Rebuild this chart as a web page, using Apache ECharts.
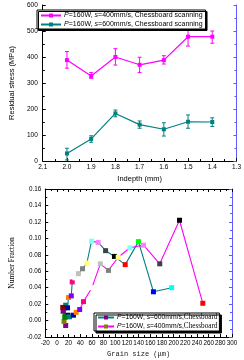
<!DOCTYPE html>
<html><head><meta charset="utf-8">
<script src="https://cdn.jsdelivr.net/npm/echarts@6/dist/echarts.min.js"></script>
<style>html,body{margin:0;padding:0;background:#fff}#c{width:244px;height:360px}</style>
</head><body><div id="c"></div>
<script>
// ---- Top chart data ----
const depth = [2.0, 1.9, 1.8, 1.7, 1.6, 1.5, 1.4];
const stress400 = [388, 327, 400, 370, 388, 478, 478];
const err400Low = [357, 318, 369, 340, 373, 442, 453];
const err400High = [421, 340, 432, 399, 405, 512, 500];
const stress600 = [29, 85, 183, 140, 122, 151, 150];
const err600Low = [4, 72, 170, 126, 96, 126, 133];
const err600High = [49, 97, 196, 154, 147, 177, 166];
// ---- Bottom chart data ----
const grain600 = [15, 11.7, 13.8, 15, 18.2, 19.8, 24.6, 26.2, 31, 36.8, 43.9, 51.3, 59.3, 70.6, 83.4, 98.6, 117, 139.7, 165.4, 196.6];
const frac600 = [-0.006, 0.0146, 0.005, 0.0187, 0.0155, 0.028, 0.030, 0.047, 0.052, 0.057, 0.063, 0.070, 0.0966, 0.095, 0.085, 0.078, 0.068, 0.096, 0.035, 0.040];
const grain400 = [12.2, 19, 10.6, 10, 13.8, 21.4, 28.3, 33, 39, 45.5, 60, 74.4, 88.3, 105, 125.2, 148.4, 176.2, 210, 250];
const frac400 = [-0.001, 0.0065, 0.0113, 0.016, 0.004, 0.0045, 0.0065, 0.010, 0.0134, 0.023, 0.040, 0.069, 0.061, 0.077, 0.0885, 0.0917, 0.069, 0.122, 0.021];
const topXTicks = [2.1, 1.3];
const topYTicks = [0, 600];
const botXTicks = [-20, 300];
const botYTicks = [-0.02, 0.16];

// styles
const originPalette = ['#000000','#FF0000','#00FF00','#0000FF','#00FFFF','#FF00FF','#FFFF00','#808000','#000080','#800080','#800000','#008000','#008080','#0000A0','#FF8000','#8000FF','#FF0080','#FFFFFF','#C0C0C0','#808080','#FFFF80','#80FFFF','#FF80FF','#404040'];
const TEAL = '#008080', MAG = '#FF00FF', BLUE = '#5b5bff';
const SANS = 'Liberation Sans', SERIF = 'Liberation Serif';

function coloredPoints(xs, ys, start) {
  return xs.map((x, i) => ({value: [x, ys[i]], itemStyle: {color: originPalette[(start + i) % originPalette.length]}}));
}
function errData(xs, lo, hi) { return xs.map((x, i) => [x, lo[i], hi[i]]); }
function errRender(color) {
  return function (params, api) {
    const x = api.value(0);
    const p1 = api.coord([x, api.value(1)]);
    const p2 = api.coord([x, api.value(2)]);
    const w = 2;
    const st = {stroke: color, lineWidth: 1};
    return {type: 'group', children: [
      {type: 'line', shape: {x1: p1[0], y1: p1[1], x2: p2[0], y2: p2[1]}, style: st},
      {type: 'line', shape: {x1: p1[0]-w, y1: p1[1], x2: p1[0]+w, y2: p1[1]}, style: st},
      {type: 'line', shape: {x1: p2[0]-w, y1: p2[1], x2: p2[0]+w, y2: p2[1]}, style: st}
    ]};
  };
}

const legendNames = {
  a400: '{i|P}=160W, {i|s}=400mm/s, Chessboard scanning',
  a600: '{i|P}=160W, {i|s}=600mm/s, Chessboard scanning',
  b600: '{i|P}=160W, {i|s}=600mm/s,{s|Chessboard}',
  b400: '{i|P}=160W, {i|s}=400mm/s,{s|Chessboard}'
};

function baseAxis(extra) {
  return Object.assign({
    type: 'value',
    axisLine: {show: true, onZero: false, lineStyle: {color: '#000', width: 1}},
    axisTick: {show: true, inside: true, length: 3, lineStyle: {color: '#000'}},
    minorTick: {show: true, splitNumber: 2, length: 2, lineStyle: {color: '#000'}},
    splitLine: {show: false},
    minorSplitLine: {show: false},
    axisLabel: {fontSize: 6.5, fontFamily: SANS, color: '#000', margin: 4}
  }, extra);
}
function blueAxis(extra) {
  return Object.assign(baseAxis(extra), {
    axisLine: {show: true, onZero: false, lineStyle: {color: BLUE, width: 1}},
    axisTick: {show: true, inside: true, length: 3, lineStyle: {color: BLUE}},
    minorTick: {show: true, splitNumber: 2, length: 2, lineStyle: {color: BLUE}},
    axisLabel: {show: false}
  });
}

const chart = echarts.init(document.getElementById('c'), null, {renderer: 'canvas'});
chart.setOption({
  animation: false,
  backgroundColor: '#fff',
  grid: [
    {left: 28, right: 6, top: 5, height: 156, containLabel: false},
    {left: 33, right: 12, top: 189, height: 148, containLabel: false}
  ],
  legend: [
    {
      data: ['a400', 'a600'], orient: 'vertical', left: 37, top: 10,
      backgroundColor: '#fff', borderColor: '#000', borderWidth: 1,
      shadowColor: '#000', shadowBlur: 0, shadowOffsetX: 1.5, shadowOffsetY: 1.5,
      padding: [2, 3, 1, 3], itemGap: 2, itemWidth: 20, itemHeight: 5,
      formatter: n => legendNames[n],
      textStyle: {fontSize: 7, fontFamily: SANS, color: '#000', padding: [0, 0, 0, -2],
        rich: {i: {fontStyle: 'italic', fontSize: 7, fontFamily: SANS, color: '#000'}}}
    },
    {
      data: ['b600', 'b400'], orient: 'vertical', left: 94, top: 313,
      backgroundColor: '#fff', borderColor: '#000', borderWidth: 1,
      shadowColor: '#000', shadowBlur: 0, shadowOffsetX: 2, shadowOffsetY: 2,
      padding: [1, 2, 1, 3], itemGap: 2, itemWidth: 16, itemHeight: 5,
      formatter: n => legendNames[n],
      textStyle: {fontSize: 6.8, fontFamily: SANS, color: '#000', padding: [0, 0, 0, -2],
        rich: {i: {fontStyle: 'italic', fontSize: 6.8, fontFamily: SANS, color: '#000'},
               s: {fontSize: 7.2, fontFamily: SERIF, color: '#000'}}}
    }
  ],
  xAxis: [
    baseAxis({gridIndex: 0, min: topXTicks[1], max: topXTicks[0], interval: 0.1, inverse: true,
      name: 'Indepth (mm)', nameLocation: 'middle', nameGap: 14,
      nameTextStyle: {fontSize: 7.5, fontFamily: SANS, color: '#000'},
      axisLabel: {fontSize: 6.5, fontFamily: SANS, color: '#000', margin: 3, formatter: v => v.toFixed(1)}}),
    baseAxis({gridIndex: 1, min: botXTicks[0], max: botXTicks[1], interval: 20,
      name: 'Grain size (\u03bcm)', nameLocation: 'middle', nameGap: 14,
      nameTextStyle: {fontSize: 7, fontFamily: 'Liberation Mono', color: '#222'},
      axisLabel: {fontSize: 6.3, fontFamily: SANS, color: '#000', margin: 3}}),
    baseAxis({gridIndex: 1, position: 'top', min: botXTicks[0], max: botXTicks[1], interval: 20,
      axisLabel: {show: false}})
  ],
  yAxis: [
    baseAxis({gridIndex: 0, min: topYTicks[0], max: topYTicks[1], interval: 100,
      name: 'Residual stress (MPa)', nameLocation: 'middle', nameGap: 19,
      nameTextStyle: {fontSize: 7.5, fontFamily: SANS, color: '#000'},
      axisLabel: {fontSize: 6.5, fontFamily: SANS, color: '#000', margin: 5}}),
    blueAxis({gridIndex: 0, position: 'right', min: topYTicks[0], max: topYTicks[1], interval: 100}),
    baseAxis({gridIndex: 1, min: botYTicks[0], max: botYTicks[1], interval: 0.02,
      name: 'Number Fraction', nameLocation: 'middle', nameGap: 24,
      nameTextStyle: {fontSize: 7.5, fontFamily: SERIF, color: '#000'},
      axisLabel: {fontSize: 6.3, fontFamily: SANS, color: '#000', margin: 4, formatter: v => v.toFixed(2)}}),
    blueAxis({gridIndex: 1, position: 'right', min: botYTicks[0], max: botYTicks[1], interval: 0.02})
  ],
  series: [
    {type: 'custom', xAxisIndex: 0, yAxisIndex: 0, renderItem: errRender(MAG),
      data: errData(depth, err400Low, err400High), encode: {x: 0, y: [1, 2]}, z: 1, silent: true},
    {type: 'custom', xAxisIndex: 0, yAxisIndex: 0, renderItem: errRender(TEAL),
      data: errData(depth, err600Low, err600High), encode: {x: 0, y: [1, 2]}, z: 1, silent: true},
    {name: 'a400', type: 'line', xAxisIndex: 0, yAxisIndex: 0, symbol: 'rect', symbolSize: 4,
      lineStyle: {color: MAG, width: 1.2}, itemStyle: {color: MAG},
      data: depth.map((d, i) => [d, stress400[i]]), z: 3},
    {name: 'a600', type: 'line', xAxisIndex: 0, yAxisIndex: 0, symbol: 'rect', symbolSize: 4,
      lineStyle: {color: TEAL, width: 1.2}, itemStyle: {color: TEAL},
      data: depth.map((d, i) => [d, stress600[i]]), z: 3},
    {name: 'b600', type: 'line', xAxisIndex: 1, yAxisIndex: 2, symbol: 'rect', symbolSize: 5,
      lineStyle: {color: TEAL, width: 1.1}, itemStyle: {color: originPalette[9]},
      data: coloredPoints(grain600, frac600, 9), z: 3},
    {name: 'b400', type: 'line', xAxisIndex: 1, yAxisIndex: 2, symbol: 'rect', symbolSize: 5,
      lineStyle: {color: MAG, width: 1.1}, itemStyle: {color: originPalette[7]},
      data: coloredPoints(grain400, frac400, 7), z: 3}
  ]
});
</script></body></html>
